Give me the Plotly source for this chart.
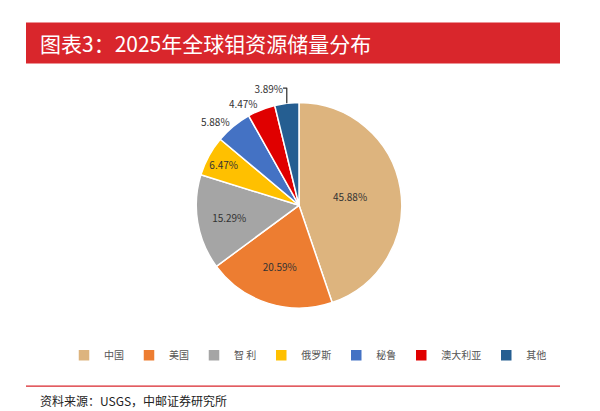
import plotly.graph_objects as go

labels = ["中国", "美国", "智 利", "俄罗斯", "秘鲁", "澳大利亚", "其他"]
values = [45.88, 20.59, 15.29, 6.47, 5.88, 4.47, 3.89]
colors = ["#DDB47E", "#ED7D31", "#A5A5A5", "#FFC000", "#4472C4", "#E00000", "#255E91"]
text_pos = ["inside", "inside", "inside", "inside", "outside", "outside", "outside"]

fig = go.Figure(go.Pie(
    labels=labels, values=values, sort=False, direction="clockwise", rotation=0,
    marker=dict(colors=colors, line=dict(color="white", width=1.5)),
    texttemplate="%{value:.2f}%", textposition=text_pos,
    insidetextorientation="horizontal",
    textfont=dict(size=10, color="#333333"),
    domain=dict(x=[0.31, 0.66], y=[0.27, 0.77]),
))

fig.update_layout(
    width=600, height=411, paper_bgcolor="white", plot_bgcolor="white",
    margin=dict(l=0, r=0, t=0, b=0),
    font=dict(family="Noto Sans CJK SC"),
    legend=dict(orientation="h", x=0.5, xanchor="center", y=0.155, yanchor="middle",
                font=dict(size=10, color="#555555"), itemwidth=30, traceorder="normal",
                entrywidth=0, tracegroupgap=0),
    shapes=[
        dict(type="rect", xref="paper", yref="paper", x0=0.03, x1=0.92, y0=0.865, y1=0.965,
             fillcolor="#D9262C", line=dict(width=0)),
        dict(type="line", xref="paper", yref="paper", x0=0.03, x1=0.92, y0=0.08, y1=0.08,
             line=dict(color="#D9262C", width=1.2)),
    ],
    annotations=[
        dict(text="图表3：2025年全球钼资源储量分布", xref="paper", yref="paper", x=0.05, y=0.915,
             xanchor="left", yanchor="middle", showarrow=False,
             font=dict(size=21, color="white")),
        dict(text="资料来源：USGS，中邮证券研究所", xref="paper", yref="paper", x=0.05, y=0.045,
             xanchor="left", yanchor="middle", showarrow=False,
             font=dict(size=12, color="#222222")),
    ],
)

fig.write_html("out.html")
